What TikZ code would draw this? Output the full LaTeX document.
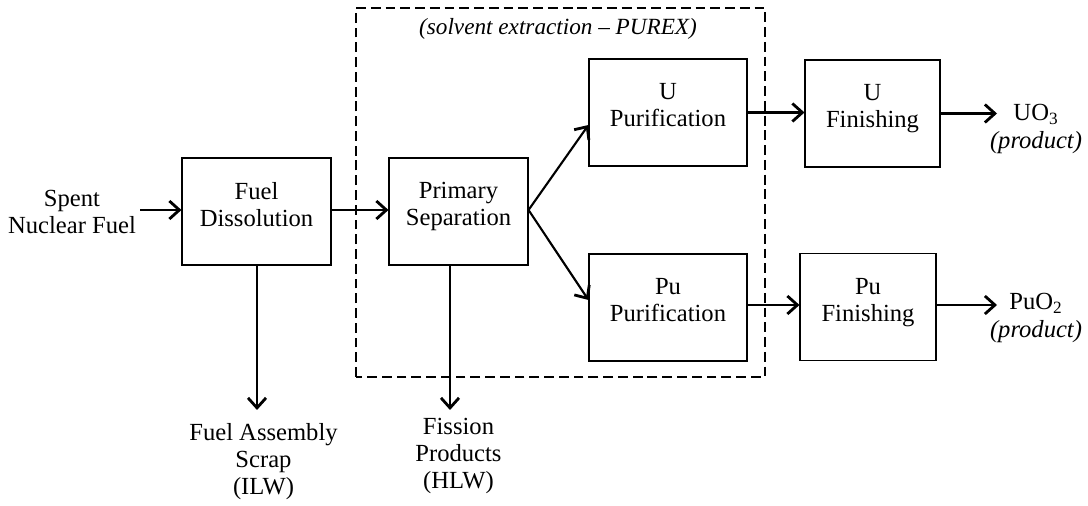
\documentclass[tikz,border=0pt]{standalone}
\usepackage{fontspec}
\setmainfont{Liberation Serif}
\usetikzlibrary{arrows.meta,positioning}

\tikzset{
  procbox/.style={draw, line width=0.6pt, minimum height=2.14cm, align=center,
                  text depth=0.3cm, font=\fontsize{14}{15.4}\selectfont},
  flow/.style={-{Straight Barb[length=0.2cm,width=0.36cm,line width=1.6pt]}, line width=1.2pt},
  txt/.style={align=center, font=\fontsize{14}{15.4}\selectfont}
}

\begin{document}
\begin{tikzpicture}
  \useasboundingbox (0,0) rectangle (21.76,10.1);                 % Page size

  \draw[line width=0.6pt, dash pattern=on 5.6pt off 2.8pt]
        (7.12,2.56) rectangle (15.3,9.94);                         % PUREX frame
  \node[txt, font=\fontsize{13.2}{15}\selectfont\itshape] (purex) at (11.16,9.52)
        {(solvent extraction -- PUREX)};                           % Frame title

  \node[procbox, minimum width=2.98cm] (dissol) at (5.13,5.87) {Fuel\\Dissolution};
  \node[procbox, minimum width=2.78cm] (primsep) at (9.17,5.87) {Primary\\Separation};
  \node[procbox, minimum width=3.16cm] (upur) at (13.36,7.85) {U\\Purification};
  \node[procbox, minimum width=3.16cm] (pupur) at (13.36,3.95) {Pu\\Purification};
  \node[procbox, minimum width=2.70cm] (ufin) at (17.45,7.83) {U\\Finishing};
  \node[procbox, minimum width=2.72cm] (pufin) at (17.36,3.96) {Pu\\Finishing};

  \node[txt] (spent) at (1.44,5.86) {Spent\\Nuclear Fuel};        % Feed text
  \node[txt] (scrap) at (5.27,0.86) {Fuel Assembly\\Scrap\\(ILW)};
  \node[txt] (fission) at (9.17,0.98) {Fission\\Products\\(HLW)};
  \node[txt] (uprod) at (20.72,7.52) {UO\textsubscript{3}\\\textit{(product)}};
  \node[txt] (puprod) at (20.72,3.74) {PuO\textsubscript{2}\\\textit{(product)}};

  \coordinate (feed) at (2.8,5.9);                                  % Start of feed arrow
  \coordinate (uout) at (19.94,7.83);                               % End of UO3 arrow
  \coordinate (puout) at (19.94,4.0);                               % End of PuO2 arrow
  \coordinate (scrapend) at (5.14,1.9);                             % End of scrap arrow
  \coordinate (fpend) at (9.0,1.9);                                 % End of waste arrow

  \draw[flow] (feed) -- (feed -| dissol.west);                      % Feed into dissolver
  \draw[flow] (dissol.east |- feed) -- (primsep.west |- feed);      % Dissolver to separation
  \draw[flow] (primsep.east |- feed) -- ([yshift=-0.25cm]upur.west); % Split to U
  \draw[flow] (primsep.east |- feed) -- ([yshift=0.15cm]pupur.west); % Split to Pu
  \draw[flow] (upur.east) -- (upur.east -| ufin.west);              % U to finishing
  \draw[flow] (puout -| pupur.east) -- (puout -| pufin.west);       % Pu to finishing
  \draw[flow] (ufin.east) -- (uout);                                % U product
  \draw[flow] (puout -| pufin.east) -- (puout);                     % Pu product
  \draw[flow] (scrapend |- dissol.south) -- (scrapend);             % Scrap out
  \draw[flow] (fpend |- primsep.south) -- (fpend);                  % Waste out
\end{tikzpicture}
\end{document}
